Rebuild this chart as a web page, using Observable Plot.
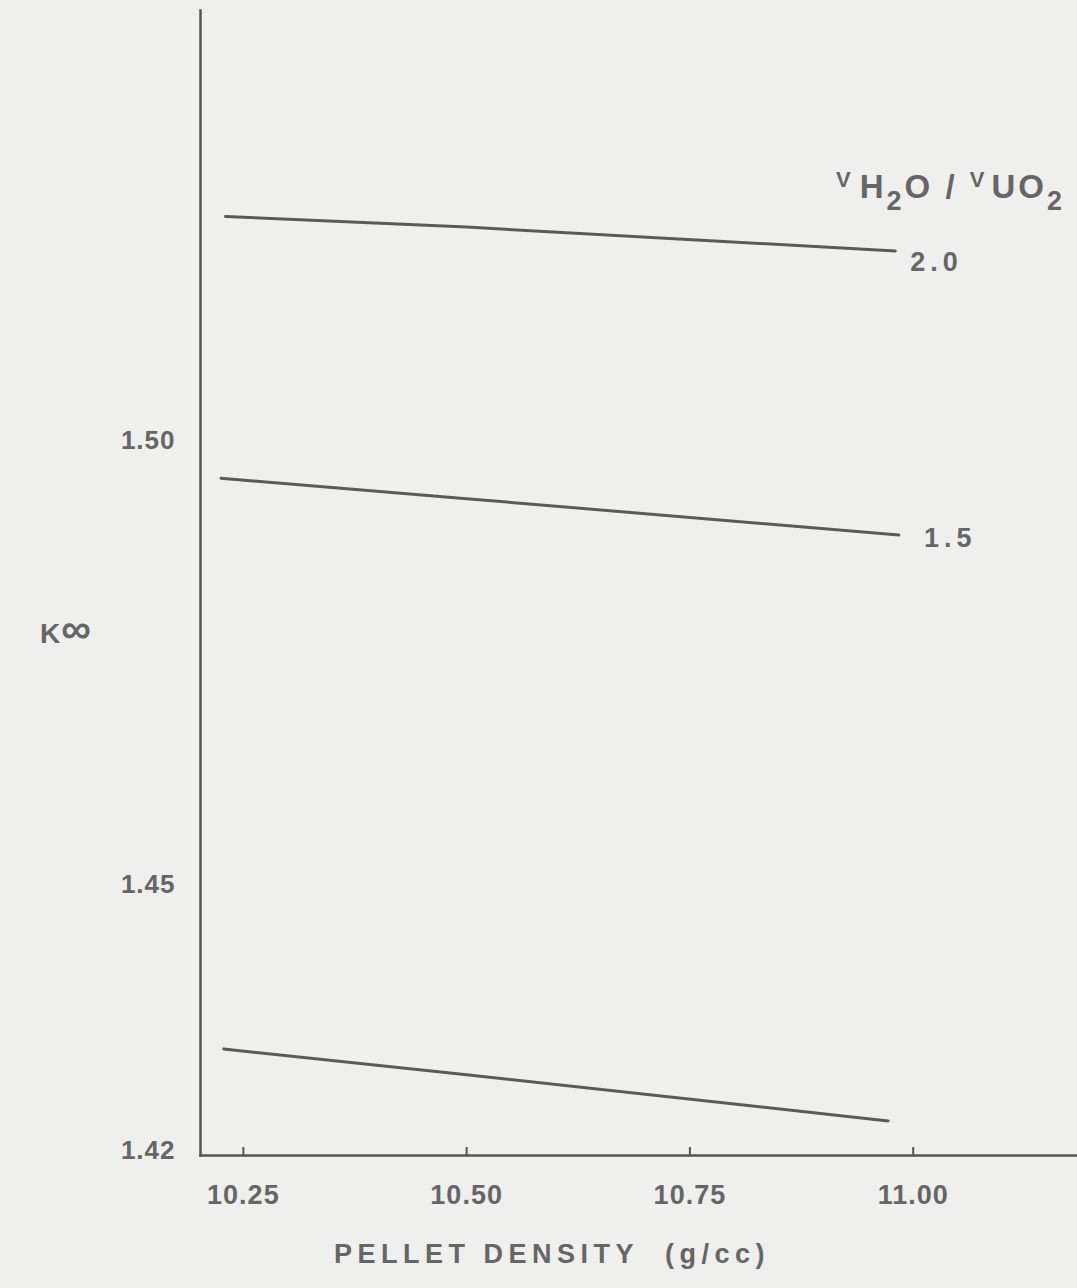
<!DOCTYPE html>
<html><head><meta charset="utf-8">
<script src="https://cdn.jsdelivr.net/npm/d3@7"></script>
<script src="https://cdn.jsdelivr.net/npm/@observablehq/plot@0.6"></script>
<style>
body{margin:0;background:#efefed;}
svg{display:block}
</style>
</head><body><div id="chart"></div>
<script>
// Series: H2O/UO2 volume ratio curves (bottom curve unlabeled in the original)
const seriesNames = ["2.0", "1.5", "low"];
const density20 = [10.23, 10.50, 10.98];
const kinf20    = [1.5258, 1.5246, 1.5219];
const density15 = [10.225, 10.50, 10.984];
const kinf15    = [1.4963, 1.4940, 1.4899];
const densityLow = [10.228, 10.50, 10.972];
const kinfLow    = [1.4320, 1.4291, 1.4239];

const xTicks = [10.25, 10.50, 10.75, 11.00];
const xTickLabels = ["10.25", "10.50", "10.75", "11.00"];
const yTicks = [1.42, 1.45, 1.50];
const yTickLabels = ["1.42", "1.45", "1.50"];

const rows = [];
[[density20, kinf20], [density15, kinf15], [densityLow, kinfLow]].forEach(([xs, ys], i) => {
  xs.forEach((x, j) => rows.push({series: seriesNames[i], density: x, k: ys[j]}));
});
const ends = seriesNames.map(s => rows.filter(r => r.series === s).at(-1));

const ink = "#666";
const font = "Liberation Sans, Arial, Helvetica, sans-serif";

const plot = Plot.plot({
  width: 1077, height: 1288,
  marginLeft: 200, marginRight: 0, marginTop: 10, marginBottom: 133,
  x: {domain: [10.202, 11.184], axis: null},
  y: {domain: [1.42, 1.549], axis: null},
  style: {background: "transparent", fontFamily: font, color: ink},
  marks: [
    Plot.frame({anchor: "left", stroke: "#555", strokeWidth: 2.5}),
    Plot.frame({anchor: "bottom", stroke: "#555", strokeWidth: 2.5}),
    Plot.ruleX(xTicks, {x: d => d, y1: 1.42, y2: 1.4209, stroke: "#555", strokeWidth: 2}),
    Plot.text(xTicks, {x: d => d, text: (d, i) => xTickLabels[i], frameAnchor: "bottom", dy: 48, fontSize: 27, fontWeight: "bold", fill: ink}),
    Plot.text(yTicks, {y: d => d, text: (d, i) => yTickLabels[i], frameAnchor: "left", dx: -25, dy: -5, textAnchor: "end", fontSize: 26, fontWeight: "bold", fill: ink}),
    Plot.line(rows, {x: "density", y: "k", z: "series", stroke: "#5a5a5a", strokeWidth: 3}),
    Plot.text(ends.filter(d => d.series === "2.0"), {x: "density", y: "k", text: "series", textAnchor: "start", dx: 15, dy: 11, fontSize: 27, fontWeight: "bold", fill: ink}),
    Plot.text(ends.filter(d => d.series === "1.5"), {x: "density", y: "k", text: "series", textAnchor: "start", dx: 25, dy: 3, fontSize: 27, fontWeight: "bold", fill: ink}),
    Plot.text(["PELLET DENSITY\u00a0\u00a0(g/cc)"], {frameAnchor: "bottom", dx: -87, dy: 107, fontSize: 27, fontWeight: "bold", fill: ink})
  ]
});

const svg = d3.select(plot);
svg.selectAll("text").attr("letter-spacing", "1px");
svg.selectAll("text").filter(function() { return /PELLET/.test(this.textContent); }).attr("letter-spacing", "5.5px");
svg.selectAll("text").filter(function() { return /^(2\.0|1\.5)$/.test(this.textContent); }).attr("letter-spacing", "5px");

// K-infinity axis title
const k = svg.append("text")
  .attr("x", 40).attr("y", 643).attr("text-anchor", "start")
  .attr("fill", ink).attr("font-family", font).attr("font-size", 28).attr("font-weight", "bold");
k.append("tspan").text("K");
k.append("tspan").attr("font-size", 42).attr("dx", 1).text("\u221e");

// legend title V_H2O / V_UO2
const t = svg.append("text")
  .attr("x", 836).attr("y", 198).attr("text-anchor", "start")
  .attr("fill", ink).attr("font-family", font).attr("font-size", 33).attr("font-weight", "bold")
  .attr("letter-spacing", "3px");
t.append("tspan").attr("font-size", 22).attr("dy", -11).text("V");
t.append("tspan").attr("dy", 11).attr("dx", 6).text("H");
t.append("tspan").attr("font-size", 27).attr("dy", 12).text("2");
t.append("tspan").attr("dy", -12).text("O / ");
t.append("tspan").attr("font-size", 22).attr("dy", -11).text("V");
t.append("tspan").attr("dy", 11).attr("dx", 4).text("UO");
t.append("tspan").attr("font-size", 27).attr("dy", 12).text("2");

document.getElementById("chart").appendChild(plot);
</script>
</body></html>
